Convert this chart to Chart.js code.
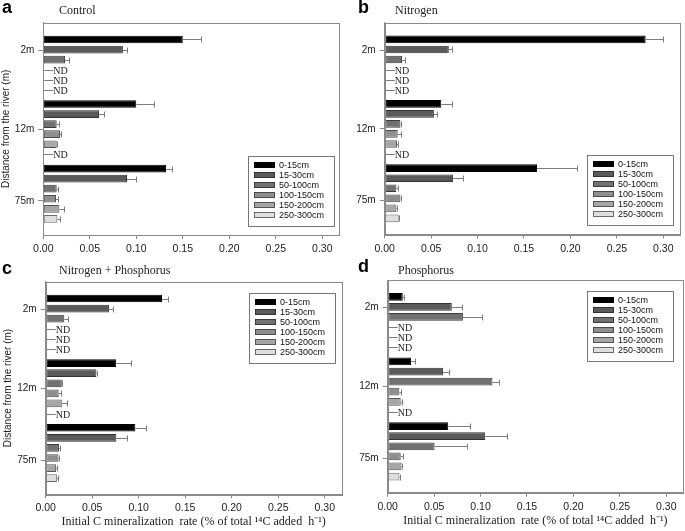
<!DOCTYPE html>
<html>
<head>
<meta charset="utf-8">
<script src="https://cdn.jsdelivr.net/npm/chart.js@4.4.1/dist/chart.umd.min.js"></script>
<style>
  body { margin: 0; background: #fff; width: 685px; height: 531px; position: relative; overflow: hidden; }
  canvas { position: absolute; left: 0; top: 0; }
  .tag { position: absolute; font: bold 18px "Liberation Sans", Arial, sans-serif; line-height: 18px; color: #000; }
  .ttl { position: absolute; font: 12px "Liberation Serif", "Times New Roman", serif; line-height: 12px; color: #222; }
</style>
</head>
<body>
<canvas id="pa" width="685" height="531"></canvas>
<canvas id="pb" width="685" height="531"></canvas>
<canvas id="pc" width="685" height="531"></canvas>
<canvas id="pd" width="685" height="531"></canvas>
<div class="tag" style="left:2px;top:-2px">a</div>
<div class="ttl" style="left:59px;top:3.5px">Control</div>
<div class="tag" style="left:358px;top:-2px">b</div>
<div class="ttl" style="left:395px;top:3.5px">Nitrogen</div>
<div class="tag" style="left:2px;top:259px">c</div>
<div class="ttl" style="left:59px;top:263.5px">Nitrogen + Phosphorus</div>
<div class="tag" style="left:358px;top:257px">d</div>
<div class="ttl" style="left:398px;top:263.5px">Phosphorus</div>
<script>
// categories
const distances = ['2m', '12m', '75m'];
const depths = ['0-15cm', '15-30cm', '50-100cm', '100-150cm', '150-200cm', '250-300cm'];
const xTicks = [0, 0.05, 0.10, 0.15, 0.20, 0.25, 0.30];

// rows = depths, columns = distances (null = ND)
const control = [
  [0.150, 0.100, 0.132],
  [0.0856, 0.060, 0.090],
  [0.0234, 0.0144, 0.0144],
  [null, 0.018, 0.0137],
  [null, 0.0144, 0.0173],
  [null, null, 0.0151]
];
const controlErr = [
  [0.020, 0.019, 0.0065],
  [0.0045, 0.005, 0.010],
  [0.0046, 0.0026, 0.0016],
  [0, 0.001, 0.0023],
  [0, 0.0007, 0.0047],
  [0, 0, 0.0025]
];
const nitrogen = [
  [0.281, 0.061, 0.164],
  [0.069, 0.053, 0.0737],
  [0.0187, 0.0169, 0.0126],
  [null, 0.014, 0.0169],
  [null, 0.0133, 0.0126],
  [null, null, 0.0151]
];
const nitrogenErr = [
  [0.0185, 0.012, 0.043],
  [0.004, 0.0035, 0.011],
  [0.0035, 0.001, 0.0018],
  [0, 0.0035, 0.0005],
  [0, 0.0005, 0.0008],
  [0, 0, 0.0008]
];
const nitroPhos = [
  [0.125, 0.0758, 0.0964],
  [0.068, 0.0545, 0.076],
  [0.020, 0.0173, 0.0144],
  [null, 0.014, 0.0137],
  [null, 0.0173, 0.0112],
  [null, null, 0.012]
];
const nitroPhosErr = [
  [0.006, 0.0155, 0.0116],
  [0.004, 0.001, 0.011],
  [0.004, 0.0007, 0.0007],
  [0, 0.0026, 0.0007],
  [0, 0.0057, 0.0007],
  [0, 0, 0.0017]
];
const phosphorus = [
  [0.0162, 0.0252, 0.0652],
  [0.069, 0.0595, 0.105],
  [0.081, 0.1128, 0.0505],
  [null, 0.0126, 0.014],
  [null, 0.014, 0.0148],
  [null, null, 0.0126]
];
const phosphorusErr = [
  [0.0018, 0.0044, 0.0231],
  [0.0107, 0.0068, 0.024],
  [0.0207, 0.0069, 0.0349],
  [0, 0.0022, 0.002],
  [0, 0.0015, 0.0007],
  [0, 0, 0.0007]
];

// styles
const fills = ['#000000', '#5a5a5a', '#717171', '#8e8e8e', '#a6a6a6', '#dedede'];
const edges = ['#000000', '#333333', '#3c3c3c', '#4a4a4a', '#555555', '#6a6a6a'];
const axisGray = '#8a8a8a';
const sans = '"Liberation Sans", Arial, sans-serif';
const serif = '"Liberation Serif", "Times New Roman", serif';
const tickSpots = [-0.225, 1.0, 2.11];   // where the distance labels sit on the y scale
const Y_W = 43, X_H = 35;

// frame, error bars, ND marks and the boxed legend
const extras = {
  id: 'extras',
  afterDatasetsDraw(chart, args, opts) {
    const ctx = chart.ctx, a = chart.chartArea, xs = chart.scales.x;
    ctx.save();
    ctx.lineWidth = 1;
    chart.data.datasets.forEach((ds, di) => {
      const meta = chart.getDatasetMeta(di);
      meta.data.forEach((bar, i) => {
        const v = ds.data[i].x;
        const y = Math.round(bar.y) + 0.5;
        ctx.strokeStyle = '#7d7d7d';
        if (v === null) {
          ctx.beginPath();
          ctx.moveTo(xs.left + 1, y);
          ctx.lineTo(xs.left + 10, y);
          ctx.stroke();
          ctx.fillStyle = '#222';
          ctx.font = '10px ' + serif;
          ctx.textBaseline = 'middle';
          ctx.fillText('ND', xs.left + 10, y + 0.5);
        } else if (ds.errs[i] > 0) {
          const x0 = bar.x, x1 = Math.round(xs.getPixelForValue(v + ds.errs[i])) + 0.5;
          ctx.beginPath();
          ctx.moveTo(x0, y);
          ctx.lineTo(x1, y);
          ctx.moveTo(x1, y - 3);
          ctx.lineTo(x1, y + 3);
          ctx.stroke();
        }
      });
    });
    // frame
    ctx.strokeStyle = axisGray;
    ctx.strokeRect(Math.round(a.left) + 0.5, Math.round(a.top) + 0.5,
      Math.round(a.right - a.left), Math.round(a.bottom - a.top));
    // legend
    const lx = opts.lx, ly = opts.ly;
    ctx.fillStyle = '#fff';
    ctx.fillRect(lx, ly, 86, 70);
    ctx.strokeStyle = '#777';
    ctx.strokeRect(lx + 0.5, ly + 0.5, 86, 70);
    ctx.font = '9px ' + sans;
    ctx.textBaseline = 'middle';
    chart.data.datasets.forEach((ds, k) => {
      const ry = ly + 9 + k * 10;
      ctx.fillStyle = ds.backgroundColor;
      ctx.fillRect(lx + 6, ry - 3, 21, 6);
      ctx.strokeStyle = ds.borderColor;
      ctx.strokeRect(lx + 6.5, ry - 2.5, 20, 5);
      ctx.fillStyle = '#111';
      ctx.fillText(ds.label, lx + 31, ry + 0.5);
    });
    ctx.restore();
  }
};

function makePanel(id, vals, errs, f, lx, ly, yTitle, xTitle) {
  const datasets = depths.map((d, k) => ({
    label: d,
    data: vals[k].map((v, i) => ({ x: v, y: i })),
    errs: errs[k],
    backgroundColor: fills[k],
    borderColor: edges[k],
    borderWidth: 1,
    borderSkipped: false,
    categoryPercentage: 0.936,
    barPercentage: 0.765
  }));
  new Chart(document.getElementById(id), {
    type: 'bar',
    data: { datasets: datasets },
    plugins: [extras],
    options: {
      indexAxis: 'y',
      responsive: false,
      animation: false,
      events: [],
      layout: { padding: { left: f.l - Y_W, right: 685 - f.r, top: f.t, bottom: 531 - f.b - X_H } },
      plugins: {
        legend: { display: false },
        tooltip: { enabled: false },
        extras: { lx: lx, ly: ly }
      },
      scales: {
        x: {
          type: 'linear', min: 0, max: 0.318,
          afterBuildTicks: s => { s.ticks = xTicks.map(v => ({ value: v })); },
          afterFit: s => { s.height = X_H; },
          ticks: { callback: v => v.toFixed(2), font: { family: sans, size: 10.5 }, color: '#222', padding: 4, maxRotation: 0, autoSkip: false },
          grid: { drawOnChartArea: false, tickLength: 4, color: axisGray },
          border: { color: axisGray },
          title: { display: xTitle, text: 'Initial C mineralization  rate (% of total \u00B9\u2074C added  h\u207B\u00B9)', padding: 0, font: { family: serif, size: 12 }, color: '#222' }
        },
        y: {
          type: 'linear', reverse: true, min: -0.65, max: 2.64, offset: false,
          afterBuildTicks: s => { s.ticks = tickSpots.map(v => ({ value: v })); },
          afterFit: s => { s.width = Y_W; },
          ticks: { callback: (v, i) => distances[i], font: { family: sans, size: 10 }, color: '#222', padding: 4, autoSkip: false },
          grid: { drawOnChartArea: false, offset: false, tickLength: 5, color: axisGray },
          border: { color: axisGray },
          title: { display: yTitle, text: 'Distance from the river (m)', padding: 0, font: { family: sans, size: 10 }, color: '#222' }
        }
      }
    }
  });
}

makePanel('pa', control, controlErr, { l: 43.3, r: 339, t: 22.7, b: 235 }, 248, 156, true, false);
makePanel('pb', nitrogen, nitrogenErr, { l: 384.7, r: 680, t: 22.7, b: 234.5 }, 587, 155, false, false);
makePanel('pc', nitroPhos, nitroPhosErr, { l: 45.7, r: 341.5, t: 281.7, b: 494.3 }, 249, 293, true, true);
makePanel('pd', phosphorus, phosphorusErr, { l: 387.7, r: 683, t: 280, b: 492.7 }, 587, 291, false, true);
</script>
</body>
</html>
